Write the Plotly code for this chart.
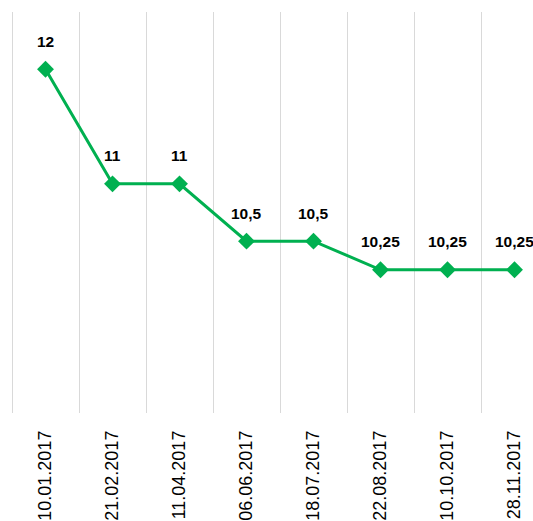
import plotly.graph_objects as go

dates = ["10.01.2017", "21.02.2017", "11.04.2017", "06.06.2017",
         "18.07.2017", "22.08.2017", "10.10.2017", "28.11.2017"]
rates = [12, 11, 11, 10.5, 10.5, 10.25, 10.25, 10.25]
rate_labels = ["12", "11", "11", "10,5", "10,5", "10,25", "10,25", "10,25"]

green = "#00B050"

fig = go.Figure()
fig.add_trace(go.Scatter(
    x=dates, y=rates, mode="lines+markers",
    line=dict(color=green, width=3),
    marker=dict(symbol="diamond", size=13, color=green),
    hoverinfo="skip", showlegend=False,
))

for d, v, t in zip(dates, rates, rate_labels):
    fig.add_annotation(
        x=d, y=v, text="<b>%s</b>" % t, showarrow=False,
        yshift=28, yanchor="middle", xanchor="center",
        font=dict(family="Liberation Sans Narrow, Arial Narrow, Liberation Sans, sans-serif",
                  size=15.5, color="#000000"),
    )

fig.update_layout(
    width=533, height=521,
    margin=dict(l=10, r=0, t=12, b=105, pad=0),
    paper_bgcolor="white", plot_bgcolor="white",
    xaxis=dict(
        type="category", range=[-0.53, 7.276],
        tickson="boundaries", showgrid=True,
        gridcolor="#d9d9d9", gridwidth=1,
        ticks="", tickangle=-90, showline=False, zeroline=False,
        ticklabelstandoff=13,
        tickfont=dict(family="Liberation Sans, Arial, sans-serif",
                      size=18, color="#000000"),
        fixedrange=True,
    ),
    yaxis=dict(
        range=[9, 12.5], visible=False, showgrid=False, zeroline=False,
        fixedrange=True,
    ),
)

fig.write_html(
    "out.html",
    config={"displayModeBar": False},
    post_script="document.body.style.margin='0';document.body.style.overflow='hidden';"
                "document.documentElement.style.overflow='hidden';",
)
